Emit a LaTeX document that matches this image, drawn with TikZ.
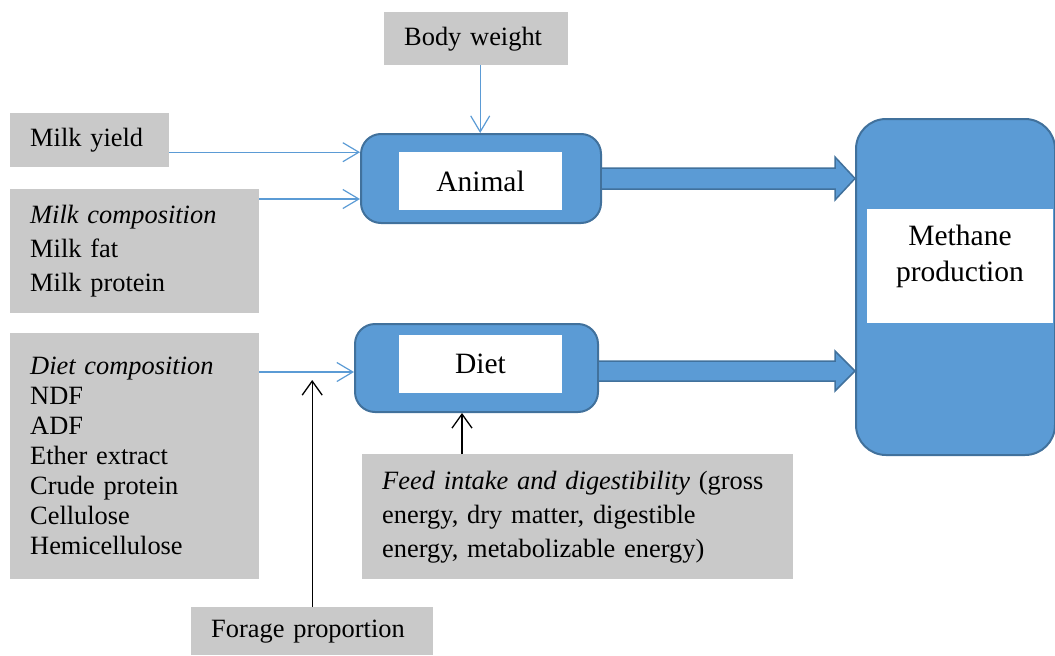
\documentclass[tikz,border=0pt]{standalone}
\usepackage{fontspec}
\setmainfont{Liberation Serif}
\usetikzlibrary{arrows.meta,calc}
\definecolor{boxblue}{HTML}{5B9BD5}
\definecolor{edgeblue}{HTML}{41719C}
\definecolor{boxgray}{HTML}{C9C9C9}
\begin{document}
\begin{tikzpicture}[x=1pt,y=-1pt,
  graybox/.style={fill=boxgray, draw=none, inner xsep=20pt, inner ysep=0pt, anchor=north west, align=left},
  bluebox/.style={fill=boxblue, draw=edgeblue, line width=2pt, rounded corners=20pt, anchor=north west, inner sep=0pt},
  whitebox/.style={fill=white, draw=none, inner sep=0pt, align=center, font=\fontsize{29.5}{36}\selectfont},
  inarrow/.style={draw=boxblue, line width=1.2pt, -{Straight Barb[length=16pt,width=19pt]}},
  blackarrow/.style={draw=black, line width=1.3pt, -{Straight Barb[length=14pt,width=20pt]}},
  blockarrow/.style={fill=boxblue, draw=edgeblue, line width=1.5pt, line join=miter}]
\useasboundingbox (0,0) rectangle (1055,656);

% grey input boxes
\node[graybox, text width=144pt, minimum height=53pt, font=\fontsize{26.4}{34}\selectfont] (bodyweight) at (384,12) {Body weight};
\node[graybox, text width=119pt, minimum height=54pt, font=\fontsize{26.4}{34}\selectfont] (milkyield) at (10,113) {Milk yield};
\node[graybox, text width=209pt, minimum height=124pt, font=\fontsize{26.4}{34}\selectfont] (milkcomp) at (10,189) {\textit{Milk composition}\\Milk fat\\Milk protein};
\node[graybox, text width=209pt, minimum height=246pt, font=\fontsize{26.4}{30}\selectfont] (dietcomp) at (10,333) {\textit{Diet composition}\\NDF\\ADF\\Ether extract\\Crude protein\\Cellulose\\Hemicellulose};
\node[graybox, text width=202pt, minimum height=48pt, font=\fontsize{26.4}{34}\selectfont] (forage) at (191,607) {Forage proportion};
\node[graybox, text width=391pt, minimum height=125pt, font=\fontsize{26.4}{34}\selectfont] (feed) at (362,454) {\textit{Feed intake and digestibility} (gross\\energy, dry matter, digestible\\energy, metabolizable energy)};

% blue process boxes
\node[bluebox, minimum width=240pt, minimum height=89pt] (animal) at (360,133) {};
\node[bluebox, minimum width=243pt, minimum height=88pt] (diet) at (354,323) {};
\node[bluebox, rounded corners=30pt, minimum width=199pt, minimum height=336pt] (methane) at (855,118) {};

\node[whitebox, minimum width=163pt, minimum height=58pt] (animallbl) at (480.5,181) {Animal};
\node[whitebox, minimum width=163pt, minimum height=58pt] (dietlbl) at (480.5,364) {Diet};
\node[whitebox, minimum width=186pt, minimum height=114pt] (methanelbl) at (960,266)
  {\raisebox{3pt}[0pt][0pt]{\begin{tabular}{@{}c@{}}Methane\\production\end{tabular}}};

% block arrows
\draw[blockarrow] let \p1=(animal.east), \p2=(methane.west) in
  (\x1,\y1+10.5pt) -- (\x2-20pt,\y1+10.5pt) -- (\x2-20pt,\y1+21.5pt) -- (\x2,\y1)
  -- (\x2-20pt,\y1-21.5pt) -- (\x2-20pt,\y1-10.5pt) -- (\x1,\y1-10.5pt);
\draw[blockarrow] let \p1=([yshift=-3pt]diet.east), \p2=(methane.west) in
  (\x1,\y1+10pt) -- (\x2-20pt,\y1+10pt) -- (\x2-20pt,\y1+20pt) -- (\x2,\y1)
  -- (\x2-20pt,\y1-20pt) -- (\x2-20pt,\y1-10pt) -- (\x1,\y1-10pt);

% thin input arrows
\coordinate (bw) at ([xshift=4pt]bodyweight.south);
\draw[inarrow] (bw) -- (bw |- animal.north);
\coordinate (my) at ([yshift=-12pt]milkyield.east);
\draw[inarrow] (my) -- (my -| animal.west);
\coordinate (mc) at ([yshift=-10pt]milkcomp.north east);
\draw[inarrow] (mc) -- (mc -| animal.west);
\coordinate (dc) at ([yshift=-39pt]dietcomp.north east);
\draw[inarrow] (dc) -- (dc -| diet.west);

% black arrows
\coordinate (fe) at ([yshift=-8pt]dc -| forage.north);
\draw[blackarrow] (forage.north) -- (fe);
\coordinate (fd) at ([xshift=100pt]feed.north west);
\draw[blackarrow] (fd) -- (fd |- diet.south);
\end{tikzpicture}
\end{document}
